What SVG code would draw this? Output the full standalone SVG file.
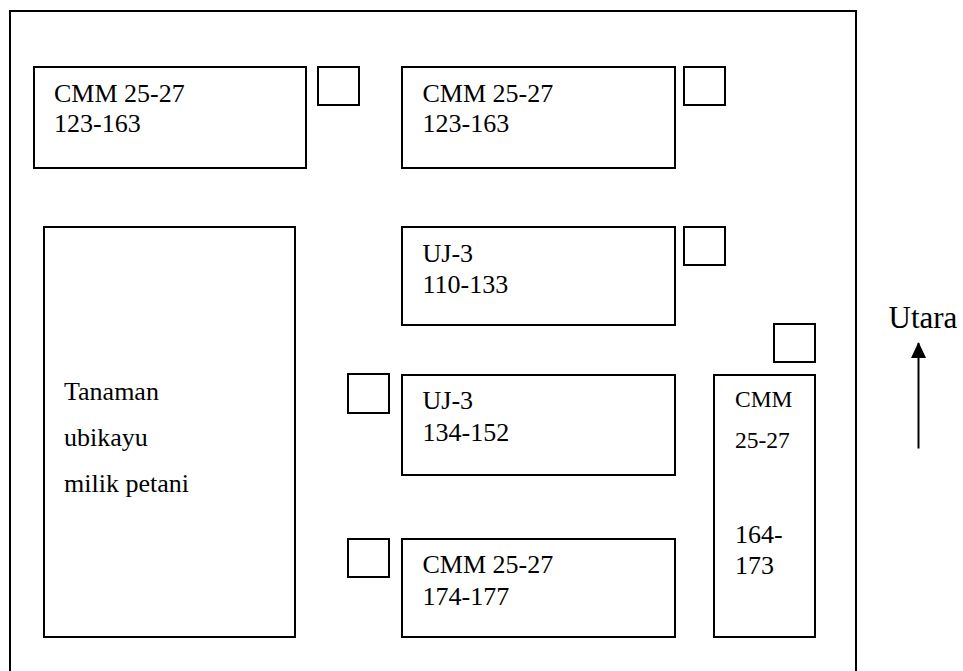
<svg xmlns="http://www.w3.org/2000/svg" width="963" height="671" viewBox="0 0 963 671">
<style>
.b{fill:#fff;stroke:#000;stroke-width:2}
.s{fill:#fff;stroke:#000;stroke-width:2}
text{font-family:"Liberation Serif","Times New Roman",serif;font-size:26px;fill:#000}
.sm{font-size:23.5px}
.big{font-size:31px}
</style>
<defs>
<marker id="ah" markerWidth="16" markerHeight="15" refX="15" refY="7.5" orient="auto" markerUnits="userSpaceOnUse" viewBox="0 0 16 15">
<path d="M0,0 L16,7.5 L0,15 Z" fill="#000"/>
</marker>
</defs>
<rect width="963" height="671" fill="#fff"/>
<g id="field">
<path d="M10,680 L10,11 L856,11 L856,680" fill="none" stroke="#000" stroke-width="2"/>
</g>
<g id="plot1">
<rect class="b" x="34" y="67" width="272" height="101"/>
<text x="54" y="101.5">CMM 25-27</text>
<text x="54" y="131.5">123-163</text>
</g>
<g id="marker1"><rect class="s" x="318" y="67" width="41" height="38"/></g>
<g id="plot2">
<rect class="b" x="402" y="67" width="273" height="101"/>
<text x="422.5" y="101.5">CMM 25-27</text>
<text x="422.5" y="131.5">123-163</text>
</g>
<g id="marker2"><rect class="s" x="684" y="67" width="41" height="38"/></g>
<g id="plot3">
<rect class="b" x="402" y="227" width="273" height="98"/>
<text x="422.5" y="261.5">UJ-3</text>
<text x="422.5" y="292.5">110-133</text>
</g>
<g id="marker3"><rect class="s" x="684" y="227" width="41" height="38"/></g>
<g id="cassava">
<rect class="b" x="44" y="227" width="251" height="410"/>
<text x="64" y="400">Tanaman</text>
<text x="64" y="446">ubikayu</text>
<text x="64" y="491.5">milik petani</text>
</g>
<g id="marker4"><rect class="s" x="774" y="324" width="41" height="38"/></g>
<g id="plot4">
<rect class="b" x="714" y="375" width="101" height="262"/>
<text class="sm" x="735" y="406.5">CMM</text>
<text class="sm" x="735" y="448">25-27</text>
<text x="735" y="543">164-</text>
<text x="735" y="574">173</text>
</g>
<g id="marker5"><rect class="s" x="348" y="374" width="41" height="39"/></g>
<g id="plot5">
<rect class="b" x="402" y="375" width="273" height="100"/>
<text x="422.5" y="409">UJ-3</text>
<text x="422.5" y="440.5">134-152</text>
</g>
<g id="marker6"><rect class="s" x="348" y="539" width="41" height="38"/></g>
<g id="plot6">
<rect class="b" x="402" y="539" width="273" height="98"/>
<text x="422.5" y="573">CMM 25-27</text>
<text x="422.5" y="605">174-177</text>
</g>
<g id="north">
<text class="big" x="888.5" y="328">Utara</text>
</g>
<g id="connectors">
<line x1="918.5" y1="448.5" x2="918.5" y2="343" stroke="#000" stroke-width="2" marker-end="url(#ah)"/>
</g>
</svg>
